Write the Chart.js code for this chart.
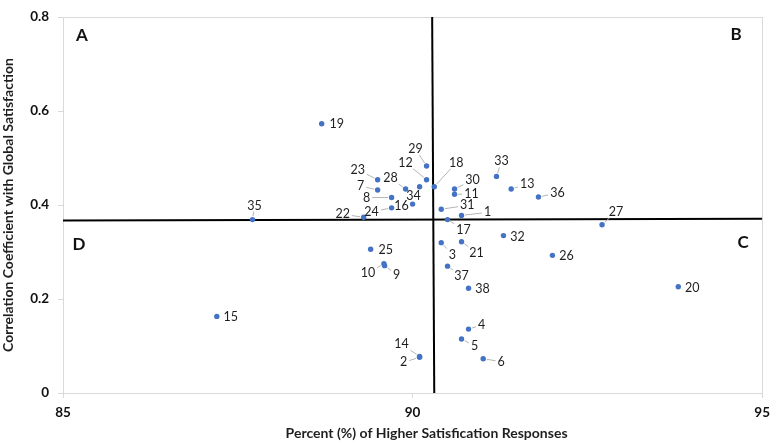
<!DOCTYPE html>
<html>
<head>
<meta charset="utf-8">
<script src="https://cdn.jsdelivr.net/npm/chart.js@4/dist/chart.umd.min.js"></script>
<style>
  html, body { margin: 0; padding: 0; background: #ffffff; }
  #wrap { width: 777px; height: 443px; }
</style>
</head>
<body>
<div id="wrap"><canvas id="c" width="777" height="443"></canvas></div>
<script>
// ---- Data ----
const pointIds = [1,2,3,4,5,6,7,8,9,10,11,12,13,14,15,16,17,18,19,20,21,22,23,24,25,26,27,28,29,30,31,32,33,34,35,36,37,38];
const xValues = [90.70,90.10,90.41,90.80,90.70,91.01,89.50,89.70,89.60,89.59,
                 90.60,90.20,91.41,90.10,87.20,90.00,90.50,90.31,88.70,93.80,
                 90.70,89.30,89.50,89.70,89.40,92.00,92.71,89.90,90.20,90.60,
                 90.41,91.30,91.20,90.10,87.71,91.80,90.50,90.80];
const yValues = [0.378,0.076,0.320,0.136,0.115,0.073,0.432,0.416,0.271,0.275,
                 0.423,0.454,0.434,0.078,0.163,0.402,0.369,0.439,0.573,0.226,
                 0.322,0.374,0.454,0.394,0.306,0.293,0.358,0.434,0.483,0.434,
                 0.391,0.335,0.461,0.439,0.369,0.417,0.270,0.223];

// Quadrant divider lines (slightly tilted as in the reference)
const dividerVX = [90.28, 90.31];
const dividerVY = [0.8, 0];
const dividerHX = [85, 95];
const dividerHY = [0.367, 0.371];

// Tick labels
const xTicks = [85, 90, 95];
const yTicks = [0, 0.2, 0.4, 0.6, 0.8];
const quadrantLetters = ['A', 'B', 'C', 'D'];

const xTitle = 'Percent (%) of Higher Satisfication Responses';
const yTitle = 'Correlation Coefficient with Global Satisfaction';

// Label placement (pixel offsets from each point: dx, dy, leader line flag)
const labelOffsets = {
  1:[26,-3,1], 2:[-16,5,1], 3:[11,12,1], 4:[13,-4,1], 5:[13,7,1], 6:[18,3,1],
  7:[-17,-4,1], 8:[-25,0,1], 9:[12,9,1], 10:[-16,9,1], 11:[17,0,1], 12:[-21,-17,1],
  13:[16,-5,1], 14:[-18,-12,1], 15:[14,1,0], 16:[-11,2,0], 17:[16,10,1], 18:[22,-24,1],
  19:[15,0,0], 20:[14,1,0], 21:[15,11,1], 22:[-21,-3,1], 23:[-20,-10,1], 24:[-20,4,1],
  25:[15,1,0], 26:[14,1,0], 27:[14,-13,1], 28:[-15,-11,1], 29:[-11,-17,1], 30:[18,-9,1],
  31:[26,-4,1], 32:[14,1,0], 33:[5,-15,1], 34:[-6,9,0], 35:[2,-14,1], 36:[19,-4,1],
  37:[14,10,1], 38:[14,1,0]
};

Chart.defaults.font.family = 'Lato, "Open Sans", sans-serif';

const points = pointIds.map((id, i) => ({ x: xValues[i], y: yValues[i] }));
const vLine = dividerVX.map((x, i) => ({ x, y: dividerVY[i] }));
const hLine = dividerHX.map((x, i) => ({ x, y: dividerHY[i] }));

const decorPlugin = {
  id: 'decor',
  beforeDatasetsDraw(chart) {
    const { ctx, chartArea } = chart;
    ctx.save();
    ctx.strokeStyle = '#d9d9d9';
    ctx.lineWidth = 1;
    ctx.strokeRect(Math.round(chartArea.left) + 0.5, Math.round(chartArea.top) + 0.5,
                   Math.round(chartArea.right - chartArea.left), Math.round(chartArea.bottom - chartArea.top));
    ctx.restore();
  },
  afterDatasetsDraw(chart) {
    const { ctx, chartArea, scales } = chart;
    const meta = chart.getDatasetMeta(2);
    ctx.save();
    ctx.font = '12.5px Lato, "Open Sans", sans-serif';
    ctx.textAlign = 'center';
    ctx.textBaseline = 'middle';
    meta.data.forEach((el, i) => {
      const id = pointIds[i];
      const off = labelOffsets[id] || [12, 0, 0];
      const px = el.x, py = el.y;
      const lx = px + off[0], ly = py + off[1];
      const txt = String(id);
      if (off[2]) {
        const hw = ctx.measureText(txt).width / 2 + 2;
        const hh = 6;
        const vx = px - lx, vy = py - ly;
        const len = Math.hypot(vx, vy);
        const t = Math.min(vx !== 0 ? hw / Math.abs(vx) : Infinity, vy !== 0 ? hh / Math.abs(vy) : Infinity);
        if (t < 1 && len > 0) {
          const sx = lx + vx * t, sy = ly + vy * t;
          const ex = px - vx / len * 3.5, ey = py - vy / len * 3.5;
          if (Math.hypot(ex - sx, ey - sy) > 1 && t * len < len - 3.5) {
            ctx.strokeStyle = '#b5b5b5';
            ctx.lineWidth = 1;
            ctx.beginPath();
            ctx.moveTo(sx, sy);
            ctx.lineTo(ex, ey);
            ctx.stroke();
          }
        }
      }
      ctx.fillStyle = '#1f1f1f';
      ctx.fillText(txt, lx, ly);
    });

    // Quadrant letters
    const hLeft = scales.y.getPixelForValue(dividerHY[0]);
    const hRight = scales.y.getPixelForValue(dividerHY[1]);
    ctx.font = 'bold 17px Lato, "Open Sans", sans-serif';
    ctx.fillStyle = '#111111';
    ctx.fillText(quadrantLetters[0], chartArea.left + 19, chartArea.top + 18);
    ctx.fillText(quadrantLetters[1], chartArea.right - 26, chartArea.top + 17);
    ctx.fillText(quadrantLetters[2], chartArea.right - 19, hRight + 24);
    ctx.fillText(quadrantLetters[3], chartArea.left + 16, hLeft + 24);

    // X axis title (placed slightly right of centre, as in the reference)
    ctx.font = 'bold 14px Lato, "Open Sans", sans-serif';
    ctx.fillStyle = '#1f1f1f';
    ctx.fillText(xTitle, (chartArea.left + chartArea.right) / 2 + 14, chart.height - 10);
    ctx.restore();
  }
};

new Chart(document.getElementById('c'), {
  type: 'scatter',
  data: {
    datasets: [
      { label: 'Vertical divider', data: vLine, showLine: true, borderColor: '#000000', borderWidth: 2,
        pointRadius: 0, pointHoverRadius: 0, order: 2 },
      { label: 'Horizontal divider', data: hLine, showLine: true, borderColor: '#000000', borderWidth: 2,
        pointRadius: 0, pointHoverRadius: 0, order: 2 },
      { label: 'Items', data: points, backgroundColor: '#4472c4', borderWidth: 0,
        pointRadius: 2.7, pointHoverRadius: 2.7, order: 1 }
    ]
  },
  options: {
    responsive: false,
    animation: false,
    devicePixelRatio: 1,
    layout: { padding: { top: 7, right: 8, left: 0, bottom: 0 } },
    plugins: { legend: { display: false }, tooltip: { enabled: false } },
    scales: {
      x: {
        type: 'linear', min: 85, max: 95,
        afterBuildTicks: (s) => { s.ticks = xTicks.map(v => ({ value: v })); },
        afterFit: (s) => { s.height = 50; },
        grid: { drawOnChartArea: false, drawTicks: true, tickLength: 5, color: '#d9d9d9' },
        border: { display: true, color: '#d9d9d9' },
        ticks: { padding: 7, color: '#111111', font: { size: 13.5, weight: 'bold' } },
        title: { display: false, text: xTitle }
      },
      y: {
        type: 'linear', min: 0, max: 0.8,
        afterBuildTicks: (s) => { s.ticks = yTicks.map(v => ({ value: v })); },
        afterFit: (s) => { s.width = 63; },
        grid: { drawOnChartArea: false, drawTicks: true, tickLength: 5, color: '#d9d9d9' },
        border: { display: true, color: '#d9d9d9' },
        ticks: { padding: 9, color: '#111111', font: { size: 13.5, weight: 'bold' },
                 callback: (v) => String(v) },
        title: { display: true, text: yTitle, color: '#1f1f1f', padding: { top: 0, bottom: 0 },
                 font: { size: 14, weight: 'bold' } }
      }
    }
  },
  plugins: [decorPlugin]
});
</script>
</body>
</html>
